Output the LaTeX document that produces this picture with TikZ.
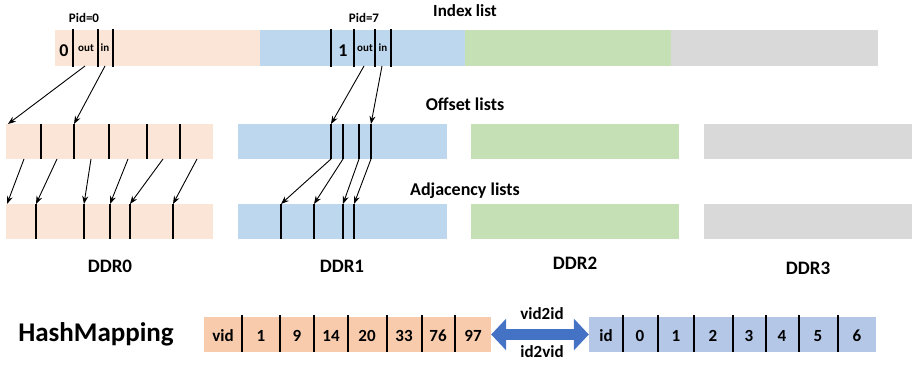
\documentclass[tikz,border=0pt]{standalone}
\usepackage{fontspec}
\setmainfont{Carlito}
\usetikzlibrary{arrows.meta}

\begin{document}
\begin{tikzpicture}[x=1pt,y=-1pt,
    sep/.style={line width=1.3pt},
    arr/.style={line width=0.9pt,-{Stealth[length=8pt,width=6pt]}},
    title/.style={anchor=base,font=\bfseries\fontsize{18}{20}\selectfont},
    ddr/.style={anchor=base,font=\bfseries\fontsize{19}{22}\selectfont},
    cell/.style={anchor=base,font=\bfseries\fontsize{17}{20}\selectfont},
    tab/.style={inner sep=0pt,minimum width=287pt,minimum height=35pt}]
    \definecolor{peach}{HTML}{FBE5D6}
    \definecolor{lblue}{HTML}{BDD7EE}
    \definecolor{lgreen}{HTML}{C5E0B4}
    \definecolor{lgray}{HTML}{D9D9D9}
    \definecolor{hpeach}{HTML}{F8CBAD}
    \definecolor{hblue}{HTML}{B4C7E7}
    \definecolor{harrow}{HTML}{4472C4}
    \useasboundingbox (0,0) rectangle (914,366);

    % Index list
    \foreach \a/\b/\c in {55/260/peach,260/465/lblue,465/671/lgreen,671/878/lgray}
      \fill[\c] (\a,30) rectangle (\b,66);
    \foreach \x in {73,98,113,331,354,375,391}
      \draw[sep] (\x,29) -- (\x,67);  %Trennstriche
    \node[title,font=\bfseries\fontsize{17}{20}\selectfont] (idx) at (465,17) {Index list};
    \node[anchor=base,font=\bfseries\fontsize{13}{15}\selectfont] (pid0) at (84,23) {Pid=0};
    \node[anchor=base,font=\bfseries\fontsize{13}{15}\selectfont] (pid7) at (364,23) {Pid=7};
    \node[cell,font=\bfseries\fontsize{18}{20}\selectfont] (n0) at (64,57) {0};
    \node[cell,font=\bfseries\fontsize{18}{20}\selectfont] (n1) at (343,57) {1};
    \foreach \x/\t/\n in {86/out/out0,105/in/in0,365/out/out1,383/in/in1}
      \node[anchor=base,font=\bfseries\fontsize{11}{13}\selectfont] (t\n) at (\x,52) {\t};
    \coordinate (out0) at (85,66);
    \coordinate (in0) at (105,66);
    \coordinate (out1) at (364,66);
    \coordinate (in1) at (382,66);

    % Offset lists und Adjacency lists
    \foreach \a/\b/\c in {6/213/peach,238/447/lblue,471/679/lgreen,704/912/lgray}
    {
      \fill[\c] (\a,124) rectangle (\b,159);  %Offset
      \fill[\c] (\a,204) rectangle (\b,239);  %Adjacency
    };
    \node[title] (off) at (465,111) {Offset lists};
    \node[title] (adj) at (465,196) {Adjacency lists};

    % DDR0
    \coordinate (opt0) at (8,124);
    \foreach \i/\x in {1/41,2/74,3/109,4/147,5/180}
      \draw[sep] (\x,124) coordinate (opt\i) -- (\x,159);
    \foreach \i/\x in {1/24,2/57,3/91,4/128,5/163,6/197}
      \coordinate (opc\i) at (\x,159);  %Mitte der Zellen
    \coordinate (apt0) at (7,204);
    \foreach \i/\x in {1/36,2/84,3/110,4/130,5/173}
      \draw[sep] (\x,204) coordinate (apt\i) -- (\x,239);
    \draw[arr] (out0) -- (opt0);
    \draw[arr] (in0) -- (opt2);
    \foreach \i in {1,...,6}
    {
      \pgfmathtruncatemacro\j{\i-1}
      \draw[arr] (opc\i) -- (apt\j);
    };

    % DDR1
    \foreach \i/\x in {1/331,2/343,3/359,4/371}
      \draw[sep] (\x,124) coordinate (obt\i) -- (\x,159) coordinate (obb\i);
    \foreach \i/\x in {1/281,2/314,3/343,4/354}
      \draw[sep] (\x,204) coordinate (abt\i) -- (\x,239);
    \draw[arr] (out1) -- (obt1);
    \draw[arr] (in1) -- (obt4);
    \foreach \i in {1,...,4}
      \draw[arr] (obb\i) -- (abt\i);

    \foreach \x/\y/\n in {110/273/0,342/273/1,575/270/2,808/275/3}
      \node[ddr] (ddr\n) at (\x,\y) {DDR\n};

    % HashMapping
    \node[anchor=base,font=\bfseries\fontsize{27}{30}\selectfont] (hm) at (96,342) {HashMapping};
    \node[tab,fill=hpeach] (vidtab) at (347.5,334.5) {};
    \node[tab,fill=hblue] (idtab) at (732.5,334.5) {};
    \foreach \x in {242,280,314,348,387,422,455,623,658,694,733,766,799,838}
      \draw[sep] (\x,315) -- (\x,352);
    \foreach \x/\t in {223/vid,261/1,297/9,331/14,367/20,404/33,438/76,473/97}
      \node[cell] (v\t) at (\x,342) {\t};
    \foreach \x/\t in {606/id,640/0,676/1,713/2,749/3,782/4,818/5,857/6}
      \node[cell] (i\t) at (\x,342) {\t};
    \draw[harrow,line width=11pt,{Triangle[length=15pt,width=31pt]}-{Triangle[length=15pt,width=31pt]}]
      (vidtab.east) -- (idtab.west);
    \node[cell] (v2i) at (542,320) {vid2id};
    \node[cell] (i2v) at (542,358) {id2vid};
\end{tikzpicture}
\end{document}
